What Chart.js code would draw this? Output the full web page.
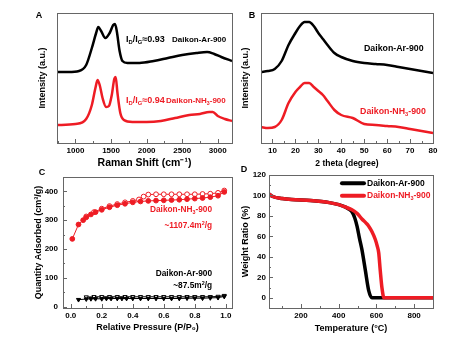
<!DOCTYPE html>
<html>
<head>
<meta charset="utf-8">
<script src="https://cdn.jsdelivr.net/npm/chart.js@4.4.1/dist/chart.umd.min.js"></script>
<style>
  html, body { margin: 0; padding: 0; background: #fff; }
  #wrap { position: relative; width: 474px; height: 340px; overflow: hidden; }
  canvas { position: absolute; }
</style>
</head>
<body>
<div id="wrap">
  <canvas id="cA" width="237" height="170" style="left:0;top:0"></canvas>
  <canvas id="cB" width="237" height="170" style="left:237px;top:0"></canvas>
  <canvas id="cC" width="237" height="180" style="left:0;top:160px"></canvas>
  <canvas id="cD" width="237" height="180" style="left:237px;top:160px"></canvas>
</div>
<script>
// ---- A: Raman ----
const ramanArX = [740, 900, 1050, 1150, 1230, 1290, 1320, 1360, 1420, 1480, 1530, 1555, 1580, 1620, 1660, 1730, 1900, 2100, 2300, 2500, 2700, 2850, 2950, 3050, 3200];
const ramanArY = [71, 71, 72, 78, 95, 110, 116, 112, 105, 110, 118, 119, 112, 92, 82, 80, 80, 82, 85, 88, 90, 91, 89, 86, 82];
const ramanNhX = [740, 1000, 1150, 1230, 1280, 1310, 1340, 1380, 1430, 1470, 1510, 1545, 1565, 1590, 1630, 1680, 1800, 2000, 2200, 2400, 2600, 2750, 2880, 2930, 3000, 3100, 3200];
const ramanNhY = [18, 19, 24, 38, 55, 63, 58, 45, 36, 37, 48, 64, 66, 50, 30, 23, 21, 21, 22, 25, 28, 29, 31, 31, 27, 24, 22];
const ramanTicks = [1000, 1500, 2000, 2500, 3000];

// ---- B: XRD ----
const xrdX = [5, 8, 11, 14, 17, 20, 22, 24, 26, 28, 30, 32, 34, 37, 40, 45, 50, 55, 60, 65, 70, 75, 80];
const xrdAr = [71, 72, 74, 82, 98, 110, 117, 121, 121, 117, 110, 104, 98, 90, 86, 82, 80, 79, 78, 76, 74, 72, 70];
const xrdNh = [16, 15, 16, 23, 40, 51, 56, 60, 60, 56, 52, 48, 42, 33, 28, 25, 19, 18, 17, 16, 14, 12, 10];
const xrdTicks = [10, 20, 30, 40, 50, 60, 70, 80];

// ---- C: N2 isotherms ----
const nhAdsP = [0.01, 0.05, 0.08, 0.1, 0.13, 0.16, 0.2, 0.25, 0.3, 0.35, 0.4, 0.45, 0.5, 0.55, 0.6, 0.65, 0.7, 0.75, 0.8, 0.85, 0.9, 0.95, 0.99];
const nhAdsQ = [235, 285, 300, 310, 320, 328, 336, 345, 352, 357, 362, 365, 367, 368, 369, 370, 371, 373, 375, 377, 380, 385, 398];
const nhDesP = [0.99, 0.95, 0.9, 0.85, 0.8, 0.75, 0.7, 0.65, 0.6, 0.55, 0.5, 0.47, 0.44, 0.4, 0.35, 0.3, 0.25, 0.2, 0.15, 0.1];
const nhDesQ = [403, 395, 392, 391, 390, 390, 390, 390, 390, 390, 389, 382, 372, 367, 362, 356, 349, 340, 328, 313];
const arAdsP = [0.05, 0.1, 0.13, 0.16, 0.2, 0.23, 0.26, 0.3, 0.33, 0.36, 0.4, 0.45, 0.5, 0.55, 0.6, 0.65, 0.7, 0.75, 0.8, 0.85, 0.9, 0.95, 0.99];
const arAdsQ = [24, 26, 27, 27, 27, 28, 28, 28, 28, 28, 28, 28, 28, 28, 28, 28, 28, 29, 29, 29, 30, 31, 35];
const arDesP = [0.99, 0.95, 0.9, 0.85, 0.8, 0.75, 0.7, 0.65, 0.6, 0.55, 0.5, 0.45, 0.4, 0.35, 0.3, 0.25, 0.2, 0.15, 0.1];
const arDesQ = [38, 35, 34, 34, 34, 34, 34, 34, 34, 34, 34, 34, 34, 34, 34, 34, 34, 34, 33];
const presTicks = [0, 0.2, 0.4, 0.6, 0.8, 1.0];
const qTicks = [0, 100, 200, 300, 400];

// ---- D: TGA ----
const tgaArT = [30, 50, 100, 150, 250, 350, 400, 430, 450, 470, 485, 497, 510, 523, 541, 559, 576, 600, 700, 800, 900];
const tgaArW = [101.5, 99, 97, 96, 95, 93, 91, 89, 87, 84, 78, 70, 58, 47, 27, 7, 0, 0, 0, 0, 0];
const tgaNhT = [30, 50, 100, 150, 250, 350, 400, 430, 470, 500, 523, 545, 559, 575, 594, 605, 612, 620, 629, 640, 660, 700, 800, 900];
const tgaNhW = [101.5, 99, 97, 96, 95, 93, 91, 89, 86, 82, 77, 73, 70, 65, 57, 50, 44, 27, 10, 0, 0, 0, 0, 0];
const tempTicks = [200, 400, 600, 800];
const wTicks = [0, 20, 40, 60, 80, 100, 120];

const FONT = "'Liberation Sans', Arial, sans-serif";
const RED = '#ee1c24';
const pts = (xs, ys) => xs.map((x, i) => ({ x, y: ys[i] }));

// text with _{sub} and ^{sup}
function parseRich(s) {
  const parts = [];
  const re = /([_^])\{([^}]*)\}|([^_^]+)/g;
  let m;
  while ((m = re.exec(s))) {
    if (m[3]) parts.push({ t: m[3] });
    else parts.push({ t: m[2], sub: m[1] === '_', sup: m[1] === '^' });
  }
  return parts;
}

function richText(ctx, x, y, str, size, color, align) {
  const parts = parseRich(str);
  const fontFor = p => `bold ${p.sub || p.sup ? size * 0.65 : size}px ${FONT}`;
  ctx.save();
  ctx.fillStyle = color;
  ctx.textBaseline = 'middle';
  ctx.textAlign = 'left';
  let w = 0;
  parts.forEach(p => { ctx.font = fontFor(p); w += ctx.measureText(p.t).width; });
  let cx = align === 'right' ? x - w : align === 'center' ? x - w / 2 : x;
  parts.forEach(p => {
    ctx.font = fontFor(p);
    const dy = p.sub ? size * 0.3 : p.sup ? -size * 0.35 : 0;
    ctx.fillText(p.t, cx, y + dy);
    cx += ctx.measureText(p.t).width;
  });
  ctx.restore();
}

// frame, inward ticks, panel letter, notes, legend
function decor(cfg) {
  return {
    id: 'decor',
    afterDraw(chart) {
      const { ctx, chartArea: a, scales } = chart;
      ctx.save();
      ctx.strokeStyle = '#666';
      ctx.lineWidth = 1;
      ctx.strokeRect(Math.round(a.left) + 0.5, Math.round(a.top) + 0.5, Math.round(a.right - a.left), Math.round(a.bottom - a.top));

      const marks = (scale, horiz) => {
        const vals = scale.ticks.map(t => t.value);
        const step = vals[1] - vals[0];
        const minor = [];
        for (let v = vals[0] - step / 2; v <= scale.max; v += step) if (v >= scale.min) minor.push(v);
        const draw = (v, len) => {
          const p = Math.round(scale.getPixelForValue(v)) + 0.5;
          ctx.beginPath();
          if (horiz) { ctx.moveTo(p, a.bottom); ctx.lineTo(p, a.bottom - len); }
          else { ctx.moveTo(a.left, p); ctx.lineTo(a.left + len, p); }
          ctx.stroke();
        };
        vals.forEach(v => draw(v, 4));
        minor.forEach(v => draw(v, 2));
      };
      marks(scales.x, true);
      if (cfg.yTicks) marks(scales.y, false);
      ctx.restore();

      richText(ctx, cfg.letter[0], cfg.letter[1], cfg.letter[2], 9, '#000', 'center');
      (cfg.notes || []).forEach(n => {
        richText(ctx, scales.x.getPixelForValue(n.x), scales.y.getPixelForValue(n.y), n.text, n.size, n.color, n.align || 'left');
      });
      (cfg.legend || []).forEach(l => {
        const y = scales.y.getPixelForValue(l.y);
        const x0 = scales.x.getPixelForValue(l.x0), x1 = scales.x.getPixelForValue(l.x1);
        ctx.save();
        ctx.strokeStyle = l.color; ctx.lineWidth = 4; ctx.lineCap = 'round';
        ctx.beginPath(); ctx.moveTo(x0, y); ctx.lineTo(x1, y); ctx.stroke();
        ctx.restore();
        richText(ctx, x1 + 3, y, l.text, 8.5, l.color, 'left');
      });
    }
  };
}

function xAxis(min, max, ticks, title, tSize, tPad, height, fmt) {
  return {
    type: 'linear', min, max,
    afterBuildTicks: s => { s.ticks = ticks.map(v => ({ value: v })); },
    afterFit: s => { s.height = height; },
    grid: { display: false, drawTicks: false },
    border: { display: false },
    ticks: { padding: 3, color: '#000', font: { family: FONT, size: 8, weight: 'bold' }, maxRotation: 0, autoSkip: false, callback: fmt || (v => v) },
    title: { display: true, text: title, color: '#000', font: { family: FONT, size: tSize, weight: 'bold', lineHeight: 1.2 }, padding: { top: 0, bottom: tPad } }
  };
}

function yAxis(min, max, ticks, title, tPad, width, showLabels, lPad) {
  return {
    type: 'linear', min, max,
    afterBuildTicks: s => { s.ticks = (ticks || []).map(v => ({ value: v })); },
    afterFit: s => { s.width = width; },
    grid: { display: false, drawTicks: false },
    border: { display: false },
    ticks: { display: showLabels, padding: lPad || 3, color: '#000', font: { family: FONT, size: 8, weight: 'bold' }, autoSkip: false },
    title: { display: true, text: title, color: '#000', font: { family: FONT, size: 9, weight: 'bold', lineHeight: 1.2 }, padding: { top: tPad, bottom: 0 } }
  };
}

function baseOpts(pad, x, y) {
  return {
    responsive: false, animation: false,
    layout: { padding: pad },
    plugins: { legend: { display: false }, tooltip: { enabled: false } },
    scales: { x, y }
  };
}

function curve(xs, ys, color, width) {
  return { data: pts(xs, ys), borderColor: color, borderWidth: width, pointRadius: 0, fill: false, cubicInterpolationMode: 'monotone' };
}

// A
new Chart(document.getElementById('cA'), {
  type: 'line',
  data: { datasets: [curve(ramanArX, ramanArY, '#000', 2.5), curve(ramanNhX, ramanNhY, RED, 2.5)] },
  options: baseOpts({ left: 0, top: 13, right: 5, bottom: 0 },
    xAxis(740, 3200, ramanTicks, 'Raman Shift (cm⁻¹)', 10.5, 0.7, 27),
    yAxis(0, 130, [0, 130], 'Intensity (a.u.)', 37.6, 57, false)),
  plugins: [decor({
    letter: [39, 16, 'A'],
    notes: [
      { x: 1710, y: 103, text: 'I_{D}/I_{G}≈0.93', size: 9, color: '#000' },
      { x: 2357, y: 103, text: 'Daikon-Ar-900', size: 8, color: '#000' },
      { x: 1710, y: 42, text: 'I_{D}/I_{G}≈0.94', size: 9, color: RED },
      { x: 2272, y: 42, text: 'Daikon-NH_{3}-900', size: 8, color: RED }
    ]
  })]
});

// B
new Chart(document.getElementById('cB'), {
  type: 'line',
  data: { datasets: [curve(xrdX, xrdAr, '#000', 2.5), curve(xrdX, xrdNh, RED, 2.5)] },
  options: baseOpts({ left: 0, top: 13, right: 41, bottom: 0 },
    xAxis(5, 80, xrdTicks, '2 theta (degree)', 8.5, 0.9, 27),
    yAxis(0, 130, [0, 130], 'Intensity (a.u.)', 3.6, 24, false)),
  plugins: [decor({
    letter: [15, 16, 'B'],
    notes: [
      { x: 49.9, y: 94, text: 'Daikon-Ar-900', size: 8.8, color: '#000' },
      { x: 48.2, y: 31, text: 'Daikon-NH_{3}-900', size: 8.8, color: RED }
    ]
  })]
});

// C
function iso(xs, ys, color, fill, style) {
  return {
    data: pts(xs, ys), borderColor: color, borderWidth: 1, backgroundColor: fill,
    pointRadius: 2.4, pointBorderWidth: 1, pointBorderColor: color, pointBackgroundColor: fill,
    pointStyle: style, pointRotation: style === 'triangle' ? 180 : 0, fill: false, tension: 0
  };
}
new Chart(document.getElementById('cC'), {
  type: 'line',
  data: { datasets: [
    iso(nhAdsP, nhAdsQ, RED, RED, 'circle'),
    iso(nhDesP, nhDesQ, RED, '#fff', 'circle'),
    iso(arAdsP, arAdsQ, '#000', '#000', 'triangle'),
    iso(arDesP, arDesQ, '#000', '#fff', 'triangle')
  ] },
  options: baseOpts({ left: 0, top: 17, right: 5, bottom: 0 },
    xAxis(-0.05, 1.04, presTicks, 'Relative Pressure (P/P₀)', 9, 6.6, 32, v => v.toFixed(1)),
    yAxis(-5, 450, qTicks, 'Quantity Adsorbed (cm³/g)', 33.5, 63, true, 5)),
  plugins: [decor({
    letter: [42, 13, 'C'],
    yTicks: true,
    notes: [
      { x: 0.911, y: 335, text: 'Daikon-NH_{3}-900', size: 8.3, color: RED, align: 'right' },
      { x: 0.911, y: 280, text: '~1107.4m^{2}/g', size: 8.3, color: RED, align: 'right' },
      { x: 0.911, y: 113, text: 'Daikon-Ar-900', size: 8.3, color: '#000', align: 'right' },
      { x: 0.911, y: 71, text: '~87.5m^{2}/g', size: 8.3, color: '#000', align: 'right' }
    ]
  })]
});

// D
new Chart(document.getElementById('cD'), {
  type: 'line',
  data: { datasets: [curve(tgaNhT, tgaNhW, RED, 3.5), curve(tgaArT, tgaArW, '#000', 3.5)] },
  options: baseOpts({ left: 0, top: 15, right: 41, bottom: 0 },
    xAxis(30, 900, tempTicks, 'Temperature (°C)', 9, 5.6, 32),
    yAxis(-10, 120, wTicks, 'Weight Ratio (%)', 3.6, 32, true, 3)),
  plugins: [decor({
    letter: [7, 10, 'D'],
    yTicks: true,
    legend: [
      { x0: 417, x1: 534, y: 112, color: '#000', text: 'Daikon-Ar-900' },
      { x0: 417, x1: 534, y: 99.7, color: RED, text: 'Daikon-NH_{3}-900' }
    ]
  })]
});
</script>
</body>
</html>
